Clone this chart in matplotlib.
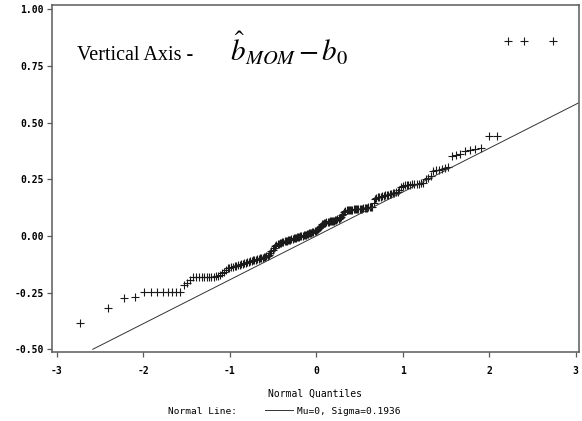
import matplotlib
matplotlib.use('Agg')
import matplotlib.pyplot as plt
from statistics import NormalDist

# Sorted residuals b_MOM - b0 (200 runs)
resid = [
    -0.386, -0.317, -0.273, -0.268,
    -0.249, -0.248, -0.248, -0.247, -0.247, -0.246, -0.246, -0.245,
    -0.216, -0.207, -0.196,
    -0.183, -0.182, -0.182, -0.181, -0.181, -0.180, -0.180, -0.179, -0.179, -0.178, -0.177,
    -0.171, -0.164, -0.157, -0.150,
    -0.143, -0.141, -0.138, -0.136, -0.134, -0.132, -0.129, -0.127, -0.125, -0.123,
    -0.121, -0.118, -0.116, -0.114, -0.112, -0.110, -0.108, -0.106, -0.104, -0.102,
    -0.100, -0.098, -0.097, -0.095, -0.093, -0.091, -0.089, -0.087,
    -0.082, -0.075, -0.068, -0.061, -0.052, -0.044, -0.039,
    -0.036, -0.034, -0.032, -0.030, -0.028, -0.026, -0.024, -0.022, -0.021, -0.019,
    -0.018, -0.016, -0.014, -0.013, -0.011, -0.010, -0.008, -0.006, -0.005, -0.003,
    -0.002, 0.000, 0.002, 0.003, 0.005, 0.006, 0.008, 0.010, 0.011, 0.013,
    0.014, 0.016, 0.018, 0.020, 0.022,
    0.026, 0.030, 0.035, 0.040, 0.046, 0.051, 0.055,
    0.058, 0.059, 0.061, 0.062, 0.063, 0.064, 0.065, 0.066, 0.067, 0.068,
    0.070, 0.071, 0.073, 0.075, 0.078,
    0.085, 0.092, 0.099, 0.105, 0.110, 0.113,
    0.114, 0.115, 0.115, 0.116, 0.116, 0.117, 0.117, 0.118, 0.118, 0.119,
    0.120, 0.120, 0.121, 0.122, 0.123, 0.124, 0.125, 0.126, 0.127, 0.128, 0.130,
    0.145,
    0.165, 0.168, 0.170, 0.172, 0.174, 0.176, 0.177, 0.179, 0.181, 0.182,
    0.184, 0.186, 0.188, 0.190, 0.193, 0.196,
    0.205, 0.214,
    0.222, 0.224, 0.225, 0.226, 0.227, 0.228, 0.229, 0.230, 0.231, 0.232, 0.234,
    0.252, 0.258, 0.265,
    0.287, 0.290, 0.293, 0.297, 0.301, 0.305,
    0.353, 0.357, 0.361,
    0.377, 0.381, 0.385, 0.389,
    0.441, 0.443,
    0.862, 0.862, 0.862,
]
mu = 0.0
sigma = 0.1936

x_ticks = [-3, -2, -1, 0, 1, 2, 3]
y_ticks = [-0.50, -0.25, 0.00, 0.25, 0.50, 0.75, 1.00]

# Blom normal scores for the ranks
n = len(resid)
nd = NormalDist()
quantiles = [nd.inv_cdf((i - 0.375) / (n + 0.25)) for i in range(1, n + 1)]

plt.rcParams['mathtext.fontset'] = 'stix'

fig = plt.figure(figsize=(5.82, 4.21), dpi=100)
ax = fig.add_axes([0.0893, 0.1646, 0.9055, 0.8234])

ax.plot(quantiles, resid, linestyle='none', marker='+', color='#1a1a1a',
        markersize=5.8, markeredgewidth=0.8)

# reference normal line, starting where it meets -0.50
x0 = (-0.5 - mu) / sigma
ax.plot([x0, 3.04], [mu + sigma * x0, mu + sigma * 3.04], color='#333333', lw=0.7)

ax.set_xlim(-3.054, 3.038)
ax.set_ylim(-0.5106, 1.019)
ax.set_xticks(x_ticks)
ax.set_xticklabels([str(t) for t in x_ticks])
ax.set_yticks(y_ticks)
ax.set_yticklabels([f'{t:.2f}' for t in y_ticks])

for side in ax.spines.values():
    side.set_color('#5a5a5a')
    side.set_linewidth(1.1)
ax.tick_params(direction='out', length=3.5, width=0.9, color='#5a5a5a', pad=2.5)
ax.tick_params(axis='x', pad=7)
for lab in ax.get_xticklabels() + ax.get_yticklabels():
    lab.set_family('DejaVu Sans Mono')
    lab.set_fontweight('bold')
    lab.set_fontsize(7)

ax.set_xlabel('Normal Quantiles', family='DejaVu Sans Mono', fontsize=7, labelpad=9)

# title text inside the frame
ax.text(0.047, 0.841, 'Vertical Axis -', transform=ax.transAxes, family='Liberation Serif',
        fontsize=14.5, va='baseline', ha='left')
ax.text(0.337, 0.841, r'$\hat{b}_{MOM}\,{-}\,b_0$', transform=ax.transAxes,
        fontsize=21, va='baseline', ha='left')

# footer legend for the normal line
fig.text(168 / 582, 1 - 411.7 / 421, 'Normal Line:', family='DejaVu Sans Mono', fontsize=6.8,
         va='center', ha='left')
fig.add_artist(plt.Line2D([265 / 582, 293 / 582], [1 - 410 / 421, 1 - 410 / 421],
                          color='#333333', lw=0.7))
fig.text(297 / 582, 1 - 411.7 / 421, 'Mu=0, Sigma=0.1936', family='DejaVu Sans Mono',
         fontsize=6.8, va='center', ha='left')

fig.savefig('out.png', dpi=100)
